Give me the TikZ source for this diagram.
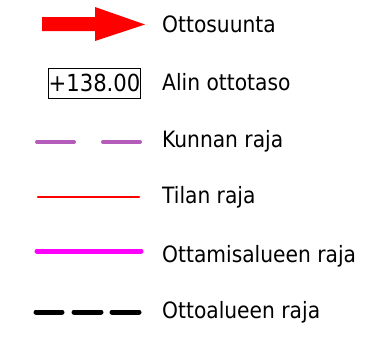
\documentclass[tikz,border=0pt]{standalone}
\usepackage{fontspec}
\setmainfont{DejaVu Sans Condensed}
\definecolor{kuntaviol}{RGB}{180,92,185}
\definecolor{ottomag}{RGB}{255,0,255}
\tikzset{
  legtext/.style={anchor=base west, inner sep=0pt, font=\fontsize{22.5}{26}\selectfont},
  kuntaline/.style={line width=4pt, kuntaviol, line cap=round},
  tilaline/.style={line width=2.6pt, red, line cap=round},
  ottoline/.style={line width=5pt, ottomag, line cap=round},
  ottoalue/.style={line width=5pt, black, line cap=round}
}
\begin{document}
\begin{tikzpicture}[x=1pt,y=-1pt]
  \useasboundingbox (0,0) rectangle (382,338);

  % ottosuunta arrow
  \fill[red] (42,17) -- (95,17) -- (95,7) -- (145,24.5) -- (95,41) -- (95,31) -- (42,31) -- cycle;
  \node[legtext] (suunta) at (162,32) {Ottosuunta};

  % alin ottotaso
  \node[draw, line width=1pt, minimum width=89pt, minimum height=30pt, inner sep=0pt,
        font=\fontsize{23.5}{26}\selectfont] (taso) at (94.5,83) {+138.00};
  \node[legtext] (alin) at (162,90) {Alin ottotaso};

  % kunnan raja
  \draw[kuntaline] (37,142) -- (74,142);
  \draw[kuntaline] (103,142) -- (140,142);
  \node[legtext] (kunta) at (162,147) {Kunnan raja};

  % tilan raja
  \draw[tilaline] (38,197) -- (139,197);
  \node[legtext] (tila) at (162,203) {Tilan raja};

  % ottamisalueen raja
  \draw[ottoline] (37,251) -- (141,251);
  \node[legtext] (ottamis) at (162,262) {Ottamisalueen raja};

  % ottoalueen raja
  \draw[ottoalue] (36,312) -- (62,312);
  \draw[ottoalue] (74,312) -- (101,312);
  \draw[ottoalue] (112,312) -- (139,312);
  \node[legtext] (ottoalue) at (162,318) {Ottoalueen raja};
\end{tikzpicture}
\end{document}
